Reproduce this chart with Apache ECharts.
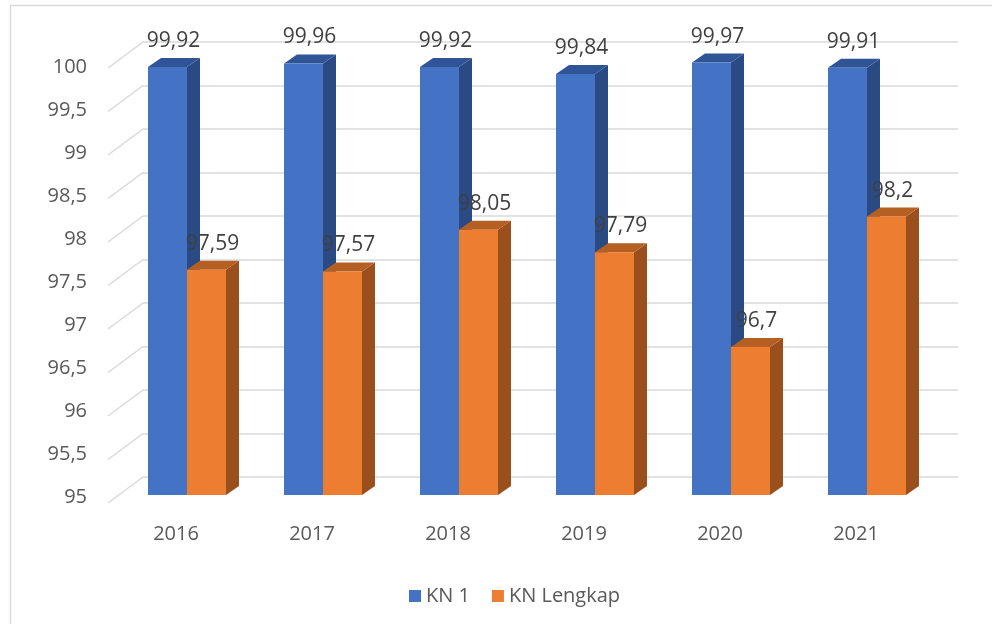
<!DOCTYPE html>
<html>
<head>
<meta charset="utf-8">
<script src="https://cdn.jsdelivr.net/npm/echarts@6/dist/echarts.min.js"></script>
<style>html,body{margin:0;padding:0;background:#fff}#c{width:1002px;height:624px}</style>
</head>
<body>
<div id="c"></div>
<script>
var categories = ['2016', '2017', '2018', '2019', '2020', '2021'];
var kn1 = [99.92, 99.96, 99.92, 99.84, 99.97, 99.91];
var knLengkap = [97.59, 97.57, 98.05, 97.79, 96.7, 98.2];
var yTicks = [95, 95.5, 96, 96.5, 97, 97.5, 98, 98.5, 99, 99.5, 100];
var seriesNames = ['KN 1', 'KN Lengkap'];

var FONT = '"Open Sans", "Liberation Sans", sans-serif';
var palettes = [
  {front: '#4472C4', top: '#2F5597', side: '#2A4A84'},
  {front: '#ED7D31', top: '#B65F23', side: '#9A4F1D'}
];
var BAR_W = 39, DX = 13, DY = -9;

function fmt(v) { return String(v).replace('.', ','); }

function makeBarRender(idx) {
  var pal = palettes[idx];
  return function (params, api) {
    var cat = api.value(0), v = api.value(1);
    var top = api.coord([cat, v]);
    var bot = api.coord([cat, 95]);
    var x0 = idx === 0 ? top[0] - BAR_W : top[0];
    var x1 = x0 + BAR_W;
    var yt = top[1], yb = bot[1];
    return {
      type: 'group',
      children: [
        {type: 'polygon', shape: {points: [[x1, yt], [x1 + DX, yt + DY], [x1 + DX, yb + DY], [x1, yb]]}, style: {fill: pal.side}},
        {type: 'polygon', shape: {points: [[x0, yt], [x1, yt], [x1 + DX, yt + DY], [x0 + DX, yt + DY]]}, style: {fill: pal.top}},
        {type: 'rect', shape: {x: x0, y: yt, width: BAR_W, height: yb - yt}, style: {fill: pal.front}},
        {type: 'text', x: x0 + BAR_W / 2 + 6, y: yt - 26, style: {text: fmt(v), fill: '#404040', font: '21px ' + FONT, textAlign: 'center', textVerticalAlign: 'middle'}}
      ]
    };
  };
}

function diagRender(params, api) {
  var v = api.value(0);
  var p = api.coord([0, v]);
  return {
    type: 'line',
    shape: {x1: p[0] - 35, y1: p[1] + 26, x2: p[0], y2: p[1]},
    style: {stroke: '#D9D9D9', lineWidth: 1.5}
  };
}

var chart = echarts.init(document.getElementById('c'));
chart.setOption({
  animation: false,
  backgroundColor: '#fff',
  textStyle: {fontFamily: FONT},
  graphic: [
    {type: 'line', shape: {x1: 10, y1: 5.5, x2: 992, y2: 5.5}, style: {stroke: '#D9D9D9', lineWidth: 1.5}},
    {type: 'line', shape: {x1: 10.5, y1: 5, x2: 10.5, y2: 624}, style: {stroke: '#D9D9D9', lineWidth: 1.5}}
  ],
  legend: {
    data: seriesNames,
    left: 404, top: 581,
    icon: 'rect', itemWidth: 12, itemHeight: 12, itemGap: 22,
    textStyle: {color: '#595959', fontSize: 20, fontFamily: FONT}
  },
  grid: [
    {left: 119, right: 67, top: 60, bottom: 129},
    {left: 108, right: 78, top: 67, bottom: 127},
    {left: 143, right: 44, top: 42, bottom: 147}
  ],
  xAxis: [
    {gridIndex: 0, type: 'category', data: categories, show: false},
    {gridIndex: 1, type: 'category', data: categories, axisLine: {show: false}, axisTick: {show: false},
     axisLabel: {margin: 27, color: '#595959', fontSize: 20, fontFamily: FONT}},
    {gridIndex: 2, type: 'value', min: 0, max: 1, show: false}
  ],
  yAxis: [
    {gridIndex: 0, type: 'value', min: 95, max: 100, interval: 0.5, show: false},
    {gridIndex: 1, type: 'value', min: 95, max: 100, interval: 0.5, axisLine: {show: false}, axisTick: {show: false},
     splitLine: {show: false},
     axisLabel: {margin: 21, color: '#595959', fontSize: 20, fontFamily: FONT, formatter: function (v) { return fmt(v); }}},
    {gridIndex: 2, type: 'value', min: 95, max: 100, interval: 0.5, axisLine: {show: false}, axisTick: {show: false},
     axisLabel: {show: false}, splitLine: {show: true, lineStyle: {color: '#D9D9D9', width: 1.5}}}
  ],
  series: [
    {type: 'custom', name: 'diag', xAxisIndex: 2, yAxisIndex: 2, renderItem: diagRender, data: yTicks.map(function (t) { return [t]; }), encode: {y: 0}, silent: true, z: 1},
    {type: 'custom', name: seriesNames[0], xAxisIndex: 0, yAxisIndex: 0, itemStyle: {color: palettes[0].front},
     renderItem: makeBarRender(0), data: kn1.map(function (v, i) { return [i, v]; }), encode: {x: 0, y: 1}, z: 2},
    {type: 'custom', name: seriesNames[1], xAxisIndex: 0, yAxisIndex: 0, itemStyle: {color: palettes[1].front},
     renderItem: makeBarRender(1), data: knLengkap.map(function (v, i) { return [i, v]; }), encode: {x: 0, y: 1}, z: 3}
  ]
});
</script>
</body>
</html>
